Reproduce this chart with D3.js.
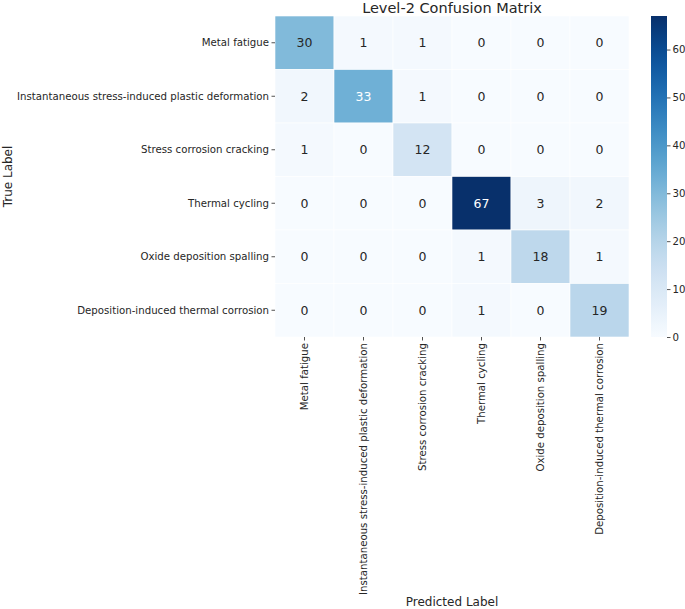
<!DOCTYPE html>
<html>
<head>
<meta charset="utf-8">
<script src="https://cdn.jsdelivr.net/npm/d3@7"></script>
<style>
  body { margin: 0; background: #fff; }
  text { font-family: "DejaVu Sans", sans-serif; fill: #262626; }
</style>
</head>
<body>
<svg id="chart" width="685" height="609"></svg>
<script>
// class names, same order for rows (true) and columns (predicted)
var classes = [
  "Metal fatigue",
  "Instantaneous stress-induced plastic deformation",
  "Stress corrosion cracking",
  "Thermal cycling",
  "Oxide deposition spalling",
  "Deposition-induced thermal corrosion"
];

// confusion counts, one row per true label
var counts = [
  [30, 1, 1, 0, 0, 0],
  [2, 33, 1, 0, 0, 0],
  [1, 0, 12, 0, 0, 0],
  [0, 0, 0, 67, 3, 2],
  [0, 0, 0, 1, 18, 1],
  [0, 0, 0, 1, 0, 19]
];

var colorTicks = [0, 10, 20, 30, 40, 50, 60];

var svg = d3.select("#chart");

// heatmap box (note: "top" is taken by window.top)
var hmLeft = 275, hmTop = 16, hmRight = 629, hmBottom = 337;

var x = d3.scaleBand().domain(classes).range([hmLeft, hmRight]);
var y = d3.scaleBand().domain(classes).range([hmTop, hmBottom]);

var vmax = d3.max(counts, function(r) { return d3.max(r); });
var color = d3.scaleSequential(d3.interpolateBlues).domain([0, vmax]);

// flatten into cells
var cells = [];
counts.forEach(function(row, i) {
  row.forEach(function(v, j) {
    cells.push({ t: classes[i], p: classes[j], v: v });
  });
});

// seaborn style: pick text colour from cell luminance
function textColor(c) {
  var rgb = d3.rgb(c);
  var lin = [rgb.r, rgb.g, rgb.b].map(function(u) {
    u = u / 255;
    return u <= 0.03928 ? u / 12.92 : Math.pow((u + 0.055) / 1.055, 2.4);
  });
  var lum = 0.2126 * lin[0] + 0.7152 * lin[1] + 0.0722 * lin[2];
  return lum > 0.408 ? "#262626" : "#ffffff";
}

svg.append("g").selectAll("rect")
  .data(cells)
  .enter().append("rect")
  .attr("x", function(d) { return x(d.p); })
  .attr("y", function(d) { return y(d.t); })
  .attr("width", x.bandwidth())
  .attr("height", y.bandwidth())
  .attr("fill", function(d) { return color(d.v); })
  .attr("stroke", "#fff")
  .attr("stroke-width", 0.6);

svg.append("g").selectAll("text")
  .data(cells)
  .enter().append("text")
  .attr("x", function(d) { return x(d.p) + x.bandwidth() / 2; })
  .attr("y", function(d) { return y(d.t) + y.bandwidth() / 2; })
  .attr("text-anchor", "middle")
  .attr("dominant-baseline", "central")
  .style("font-size", "12.5px")
  .style("fill", function(d) { return textColor(color(d.v)); })
  .text(function(d) { return d.v; });

// y axis
var yAxis = svg.append("g")
  .attr("transform", "translate(" + hmLeft + ",0)")
  .call(d3.axisLeft(y).tickSize(3.5).tickPadding(2.5));
yAxis.select(".domain").remove();
yAxis.selectAll("line").attr("stroke", "#262626").attr("stroke-width", 0.8);
yAxis.selectAll("text").style("font-size", "10.2px").attr("fill", "#262626");

// x axis, labels rotated
var xAxis = svg.append("g")
  .attr("transform", "translate(0," + hmBottom + ")")
  .call(d3.axisBottom(x).tickSize(3.5).tickPadding(2.5));
xAxis.select(".domain").remove();
xAxis.selectAll("line").attr("stroke", "#262626").attr("stroke-width", 0.8);
xAxis.selectAll("text")
  .style("font-size", "10.2px")
  .attr("fill", "#262626")
  .attr("transform", "rotate(-90)")
  .attr("text-anchor", "end")
  .attr("dy", "0.32em")
  .attr("x", -6)
  .attr("y", 0);

// titles
svg.append("text")
  .attr("x", (hmLeft + hmRight) / 2)
  .attr("y", 12.5)
  .attr("text-anchor", "middle")
  .style("font-size", "14.5px")
  .text("Level-2 Confusion Matrix");

svg.append("text")
  .attr("x", (hmLeft + hmRight) / 2)
  .attr("y", 606)
  .attr("text-anchor", "middle")
  .style("font-size", "12px")
  .text("Predicted Label");

svg.append("text")
  .attr("transform", "translate(12," + ((hmTop + hmBottom) / 2) + ") rotate(-90)")
  .attr("text-anchor", "middle")
  .style("font-size", "12px")
  .text("True Label");

// colorbar
var cbX = 651, cbW = 16;
var cy = d3.scaleLinear().domain([0, vmax]).range([hmBottom, hmTop]);

var defs = svg.append("defs");
var grad = defs.append("linearGradient")
  .attr("id", "cbar")
  .attr("x1", 0).attr("y1", 1).attr("x2", 0).attr("y2", 0);
d3.range(0, 1.0001, 0.05).forEach(function(t) {
  grad.append("stop")
    .attr("offset", t)
    .attr("stop-color", color(t * vmax));
});

svg.append("rect")
  .attr("x", cbX)
  .attr("y", hmTop)
  .attr("width", cbW)
  .attr("height", hmBottom - hmTop)
  .attr("fill", "url(#cbar)");

var cAxis = svg.append("g")
  .attr("transform", "translate(" + (cbX + cbW) + ",0)")
  .call(d3.axisRight(cy).tickValues(colorTicks).tickSize(3.5).tickPadding(2));
cAxis.select(".domain").remove();
cAxis.selectAll("line").attr("stroke", "#262626").attr("stroke-width", 0.8);
cAxis.selectAll("text").style("font-size", "10.2px").attr("fill", "#262626");
</script>
</body>
</html>
